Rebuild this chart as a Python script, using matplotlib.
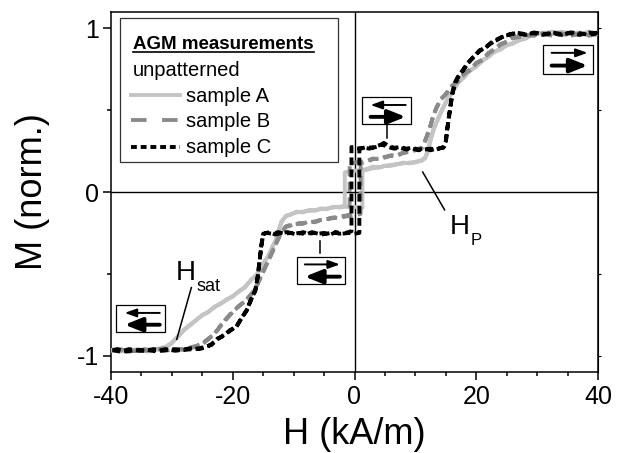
import matplotlib
matplotlib.use('Agg')
import matplotlib.pyplot as plt
from matplotlib.patches import Rectangle
from matplotlib.lines import Line2D
import numpy as np

plt.rcParams['font.family'] = 'Liberation Sans'
plt.rcParams['axes.unicode_minus'] = False

# AGM loops: (H in kA/m, M normalised)
# each loop = descending branch (+40 -> -40) then ascending branch (-40 -> +40)
a_down = [(40, 0.97), (38.5, 0.98), (37, 0.965), (35.5, 0.975), (34, 0.97), (32.5, 0.98), (31, 0.97),
          (30, 0.965), (29, 0.955), (28, 0.94), (27, 0.925), (26, 0.91), (25, 0.895), (24, 0.875),
          (23, 0.855), (22, 0.83), (21, 0.80), (20, 0.77), (19, 0.74), (18, 0.705), (17, 0.665),
          (16, 0.61), (15, 0.55), (14.2, 0.49), (13.5, 0.43), (12.9, 0.37), (12.4, 0.30), (12.0, 0.24),
          (11.6, 0.205), (11, 0.19), (10, 0.185), (9, 0.175), (8, 0.18), (7, 0.17), (6, 0.165),
          (5, 0.16), (4, 0.15), (3, 0.155), (2, 0.14), (1, 0.135), (0, 0.13), (-1, 0.125), (-1.6, 0.12),
          (-1.6, -0.085), (-2.5, -0.09), (-3.5, -0.095), (-4.5, -0.1), (-5.5, -0.105), (-6.5, -0.11),
          (-7.5, -0.115), (-8.5, -0.12), (-9.5, -0.125), (-10.5, -0.135), (-11.3, -0.15), (-12, -0.18),
          (-12.4, -0.23), (-12.9, -0.29), (-13.5, -0.34), (-14.2, -0.39), (-15, -0.44), (-16, -0.5),
          (-17, -0.54), (-18, -0.58), (-19, -0.61), (-20, -0.635), (-21, -0.66), (-22, -0.68),
          (-23, -0.705), (-24, -0.73), (-25, -0.755), (-26, -0.78), (-27, -0.81), (-28, -0.84),
          (-29, -0.88), (-30, -0.92), (-31, -0.945), (-32.5, -0.96), (-34, -0.97), (-35.5, -0.965),
          (-37, -0.975), (-38.5, -0.97), (-40, -0.97)]
a_up = [(-40, -0.965), (-38.5, -0.975), (-37, -0.97), (-35.5, -0.96), (-34, -0.975), (-32.5, -0.965),
        (-31, -0.95), (-30, -0.925), (-29, -0.885), (-28, -0.845), (-27, -0.815), (-26, -0.785),
        (-25, -0.75), (-24, -0.735), (-23, -0.70), (-22, -0.685), (-21, -0.655), (-20, -0.64),
        (-19, -0.605), (-18, -0.585), (-17, -0.535), (-16, -0.505), (-15, -0.435), (-14.2, -0.395),
        (-13.5, -0.335), (-12.9, -0.295), (-12.4, -0.225), (-12, -0.185), (-11.3, -0.145),
        (-10.5, -0.14), (-9.5, -0.12), (-8.5, -0.125), (-7.5, -0.11), (-6.5, -0.115), (-5.5, -0.1),
        (-4.5, -0.105), (-3.5, -0.09), (-2.5, -0.095), (-1.5, -0.09), (-0.5, -0.095), (0.5, -0.09),
        (1.3, -0.095), (1.3, 0.13), (2, 0.135), (3, 0.145), (4, 0.15), (5, 0.16), (6, 0.16), (7, 0.17),
        (8, 0.175), (9, 0.18), (10, 0.18), (11, 0.195), (11.6, 0.21), (12, 0.25), (12.4, 0.31),
        (12.9, 0.375), (13.5, 0.425), (14.2, 0.485), (15, 0.545), (16, 0.605), (17, 0.67), (18, 0.70),
        (19, 0.745), (20, 0.765), (21, 0.805), (22, 0.825), (23, 0.86), (24, 0.87), (25, 0.9),
        (26, 0.905), (27, 0.93), (28, 0.935), (29, 0.96), (30, 0.97), (31, 0.975), (32.5, 0.965),
        (34, 0.98), (35.5, 0.97), (37, 0.975), (38.5, 0.965), (40, 0.975)]

b_down = [(40, 0.965), (38.5, 0.955), (37, 0.97), (35.5, 0.96), (34, 0.965), (32.5, 0.955), (31, 0.965),
          (29.5, 0.96), (28, 0.955), (27, 0.95), (26, 0.94), (25, 0.92), (24, 0.9), (23, 0.875),
          (22, 0.845), (21, 0.81), (20, 0.785), (19, 0.75), (18, 0.72), (17, 0.68), (16, 0.645),
          (15, 0.6), (14.2, 0.565), (13.5, 0.52), (13, 0.47), (12.5, 0.41), (12, 0.35), (11.5, 0.3),
          (11, 0.265), (10, 0.255), (9, 0.245), (8, 0.24), (7, 0.225), (6, 0.22), (5, 0.215), (4, 0.2),
          (3, 0.205), (2, 0.19), (1, 0.185), (0, 0.18), (-0.8, 0.17), (-0.8, -0.14), (-1.5, -0.145),
          (-2.5, -0.15), (-3.5, -0.16), (-4.5, -0.165), (-5.5, -0.17), (-6.5, -0.18), (-7.5, -0.185),
          (-8.5, -0.19), (-9.5, -0.195), (-10.5, -0.2), (-11.3, -0.21), (-11.8, -0.24), (-12.3, -0.27),
          (-12.8, -0.31), (-13.4, -0.36), (-14, -0.41), (-14.7, -0.46), (-15.5, -0.53), (-16.3, -0.59),
          (-17, -0.63), (-18, -0.665), (-19, -0.7), (-20, -0.73), (-21, -0.77), (-22, -0.82),
          (-23, -0.865), (-24, -0.9), (-25, -0.93), (-26, -0.945), (-27, -0.955), (-28.5, -0.96),
          (-30, -0.965), (-31.5, -0.955), (-33, -0.97), (-34.5, -0.96), (-36, -0.97), (-37.5, -0.965),
          (-39, -0.97), (-40, -0.96)]
b_up = [(-40, -0.97), (-38.5, -0.96), (-37, -0.975), (-35.5, -0.965), (-34, -0.97), (-32.5, -0.96),
        (-31, -0.97), (-29.5, -0.96), (-28, -0.965), (-27, -0.95), (-26, -0.94), (-25, -0.925),
        (-24, -0.895), (-23, -0.87), (-22, -0.815), (-21, -0.775), (-20, -0.735), (-19, -0.695),
        (-18, -0.67), (-17, -0.625), (-16.3, -0.595), (-15.5, -0.525), (-14.7, -0.465), (-14, -0.405),
        (-13.4, -0.355), (-12.8, -0.305), (-12.3, -0.265), (-11.8, -0.235), (-11.3, -0.215),
        (-10.5, -0.205), (-9.5, -0.19), (-8.5, -0.195), (-7.5, -0.18), (-6.5, -0.185), (-5.5, -0.17),
        (-4.5, -0.165), (-3.5, -0.155), (-2.5, -0.16), (-1.5, -0.15), (-0.5, -0.145), (0.3, -0.14),
        (1.0, -0.135), (1.0, 0.175), (2, 0.185), (3, 0.2), (4, 0.205), (5, 0.21), (6, 0.225), (7, 0.22),
        (8, 0.24), (9, 0.245), (10, 0.26), (11, 0.27), (11.5, 0.305), (12, 0.355), (12.5, 0.405),
        (13, 0.475), (13.5, 0.515), (14.2, 0.57), (15, 0.595), (16, 0.65), (17, 0.675), (18, 0.725),
        (19, 0.745), (20, 0.79), (21, 0.805), (22, 0.85), (23, 0.87), (24, 0.905), (25, 0.915),
        (26, 0.945), (27, 0.945), (28, 0.96), (29.5, 0.955), (31, 0.97), (32.5, 0.96), (34, 0.97),
        (35.5, 0.955), (37, 0.965), (38.5, 0.96), (40, 0.97)]

c_down = [(40, 0.975), (38.5, 0.96), (37, 0.97), (35.5, 0.975), (34, 0.96), (32.5, 0.97), (31, 0.965),
          (29.5, 0.975), (28, 0.96), (26.5, 0.97), (25.5, 0.965), (24.5, 0.95), (23.5, 0.935),
          (22.5, 0.91), (21.5, 0.885), (20.5, 0.86), (19.5, 0.825), (18.5, 0.78), (17.8, 0.74),
          (17, 0.70), (16.5, 0.66), (16.1, 0.6), (15.8, 0.53), (15.5, 0.45), (15.2, 0.37), (15, 0.3),
          (14.6, 0.27), (13.5, 0.265), (12.5, 0.255), (11.5, 0.265), (10.5, 0.26), (9.5, 0.27),
          (8.5, 0.265), (7.5, 0.275), (6.5, 0.27), (5.5, 0.285), (4.8, 0.30), (4, 0.28), (3, 0.27),
          (2, 0.275), (1, 0.265), (0, 0.27), (-0.5, 0.275), (-0.5, -0.24), (-1.5, -0.25), (-2.5, -0.255),
          (-3.5, -0.245), (-4.5, -0.255), (-5.5, -0.26), (-6.5, -0.25), (-7.5, -0.255), (-8.5, -0.245),
          (-9.5, -0.26), (-10.5, -0.25), (-11.5, -0.255), (-12.5, -0.245), (-13.5, -0.255),
          (-14.5, -0.25), (-15, -0.26), (-15.3, -0.33), (-15.6, -0.42), (-15.9, -0.52), (-16.3, -0.6),
          (-17, -0.66), (-17.7, -0.72), (-18.5, -0.77), (-19.4, -0.82), (-20.5, -0.85), (-21.5, -0.875),
          (-22.5, -0.9), (-23.5, -0.93), (-24.5, -0.95), (-25.5, -0.96), (-27, -0.955), (-28.5, -0.965),
          (-30, -0.96), (-31.5, -0.97), (-33, -0.96), (-34.5, -0.97), (-36, -0.965), (-37.5, -0.975),
          (-39, -0.96), (-40, -0.97)]
c_up = [(-40, -0.965), (-38.5, -0.975), (-37, -0.96), (-35.5, -0.97), (-34, -0.965), (-32.5, -0.975),
        (-31, -0.96), (-29.5, -0.97), (-28, -0.965), (-26.5, -0.96), (-25.5, -0.955), (-24.5, -0.945),
        (-23.5, -0.935), (-22.5, -0.895), (-21.5, -0.88), (-20.5, -0.845), (-19.4, -0.825),
        (-18.5, -0.765), (-17.7, -0.725), (-17, -0.655), (-16.3, -0.605), (-15.9, -0.515),
        (-15.6, -0.425), (-15.3, -0.325), (-15, -0.255), (-14, -0.245), (-13, -0.26), (-12, -0.25),
        (-11, -0.245), (-10, -0.255), (-9, -0.25), (-8, -0.26), (-7, -0.245), (-6, -0.255), (-5, -0.25),
        (-4, -0.26), (-3, -0.245), (-2, -0.255), (-1, -0.25), (0, -0.255), (0.8, -0.25), (0.8, 0.265),
        (1.5, 0.27), (2.5, 0.265), (3.5, 0.28), (4.5, 0.29), (5.5, 0.275), (6.5, 0.265), (7.5, 0.27),
        (8.5, 0.26), (9.5, 0.265), (10.5, 0.255), (11.5, 0.26), (12.5, 0.265), (13.5, 0.26),
        (14.6, 0.275), (15, 0.31), (15.2, 0.38), (15.5, 0.46), (15.8, 0.54), (16.1, 0.61), (16.5, 0.67),
        (17, 0.705), (17.8, 0.745), (18.5, 0.785), (19.5, 0.82), (20.5, 0.865), (21.5, 0.88),
        (22.5, 0.915), (23.5, 0.93), (24.5, 0.955), (25.5, 0.96), (26.5, 0.975), (28, 0.965),
        (29.5, 0.97), (31, 0.96), (32.5, 0.975), (34, 0.965), (35.5, 0.97), (37, 0.96), (38.5, 0.975),
        (40, 0.965)]

sample_names = ['sample A', 'sample B', 'sample C']
sample_colors = ['#c4c4c4', '#8a8a8a', '#000000']

fig = plt.figure(figsize=(6.25, 4.53), dpi=100)
ax = fig.add_axes([0.1776, 0.1788, 0.7792, 0.7947])

loops = [a_down + a_up, b_down + b_up, c_down + c_up]
dash_styles = ['-', (0, (2.6, 1.4)), (0, (2.0, 1.1))]
for loop, col, ls in zip(loops, sample_colors, dash_styles):
    arr = np.array(loop)
    ax.plot(arr[:, 0], arr[:, 1], color=col, lw=2.8, ls=ls, solid_joinstyle='round',
            dash_capstyle='butt', zorder=3)

ax.axhline(0, color='k', lw=1.0, zorder=2)
ax.axvline(0, color='k', lw=1.0, zorder=2)

ax.set_xlim(-40, 40)
ax.set_ylim(-1.1, 1.1)
ax.set_xticks([-40, -20, 0, 20, 40])
ax.set_xticks(np.arange(-40, 41, 5), minor=True)
ax.set_yticks([-1, 0, 1])
ax.set_yticks([-0.5, 0.5], minor=True)
ax.tick_params(which='both', direction='out', width=1.1, labelsize=18)
ax.tick_params(which='major', length=5.5)
ax.tick_params(which='minor', length=2.6)
ax.tick_params(axis='x', pad=4)
ax.tick_params(axis='y', pad=3)
for sp in ax.spines.values():
    sp.set_linewidth(1.1)

# small outward ticks on the right spine
sec = ax.secondary_yaxis('right')
sec.set_yticks([-1, -0.5, 0.5, 1])
sec.tick_params(direction='out', length=2, width=0.8, labelright=False)

ax.set_xlabel('H (kA/m)', fontsize=26)
ax.set_ylabel('M (norm.)', fontsize=26)
ax.xaxis.set_label_coords(0.5, -0.125)
ax.yaxis.set_label_coords(-0.125, 0.5)

# legend drawn by hand (boxed, underlined title)
ax.add_patch(Rectangle((0.0185, 0.583), 0.4475, 0.4, transform=ax.transAxes,
                       fill=True, fc='white', ec='#333333', lw=0.9, zorder=5))
title = ax.text(0.045, 0.897, 'AGM measurements', transform=ax.transAxes, fontsize=13.5,
                fontweight='bold', va='baseline', zorder=6)
ax.text(0.045, 0.822, 'unpatterned', transform=ax.transAxes, fontsize=14.5, va='baseline', zorder=6)
leg_y = [0.769, 0.70, 0.625]
leg_text_y = [0.75, 0.681, 0.608]
leg_dash = ['-', (0, (4, 4)), (0, (1.5, 1.0))]
for name, col, ls, ly, ty in zip(sample_names, sample_colors, leg_dash, leg_y, leg_text_y):
    ax.add_line(Line2D([0.041, 0.142], [ly, ly], transform=ax.transAxes, color=col, lw=2.8,
                       ls=ls, dash_capstyle='butt', zorder=6))
    ax.text(0.154, ty, name, transform=ax.transAxes, fontsize=14.5, va='baseline', zorder=6)

fig.canvas.draw()
bb = title.get_window_extent().transformed(ax.transAxes.inverted())
ax.add_line(Line2D([bb.x0, bb.x1], [0.889, 0.889], transform=ax.transAxes, color='k', lw=1.2, zorder=6))


# boxes with the layer magnetisation arrows
def arrow_box(h0, h1, m0, m1, top_dir, bot_dir):
    ax.add_patch(Rectangle((h0, m0), h1 - h0, m1 - m0, fc='white', ec='k', lw=0.9, zorder=5))
    xa, xb = h0 + 0.17 * (h1 - h0), h1 - 0.1 * (h1 - h0)
    for frac, d, lw, hl, hw in [(0.72, top_dir, 1.4, 0.7, 0.25), (0.28, bot_dir, 2.8, 1.05, 0.42)]:
        y = m0 + frac * (m1 - m0)
        tail, tip = ((xa, y), (xb, y)) if d > 0 else ((xb, y), (xa, y))
        ax.annotate('', xy=tip, xytext=tail,
                    arrowprops=dict(arrowstyle='-|>,head_length=%g,head_width=%g' % (hl, hw),
                                    lw=lw, color='k', shrinkA=0, shrinkB=0, mutation_scale=10),
                    zorder=6)


arrow_box(31.0, 39.1, 0.723, 0.90, 1, 1)
arrow_box(1.3, 9.2, 0.413, 0.578, -1, 1)
arrow_box(-9.5, -1.6, -0.565, -0.395, 1, -1)
arrow_box(-39.1, -31.2, -0.857, -0.693, -1, -1)
ax.plot([5.4, 5.4], [0.413, 0.33], color='k', lw=1.1, zorder=4)
ax.plot([-5.6, -5.6], [-0.30, -0.37], color='k', lw=1.1, zorder=4)

# H_P and H_sat labels
ax.plot([11.2, 14.8], [0.122, -0.109], color='k', lw=1.1, zorder=4)
ax.text(15.7, -0.255, 'H', fontsize=20, va='baseline', zorder=6)
ax.text(19.1, -0.322, 'P', fontsize=12, va='baseline', zorder=6)
ax.plot([-26.8, -29.2], [-0.584, -0.9], color='k', lw=1.1, zorder=4)
ax.text(-29.3, -0.535, 'H', fontsize=20, va='baseline', zorder=6)
ax.text(-25.9, -0.608, 'sat', fontsize=13, va='baseline', zorder=6)

fig.savefig('out.png', dpi=100)
